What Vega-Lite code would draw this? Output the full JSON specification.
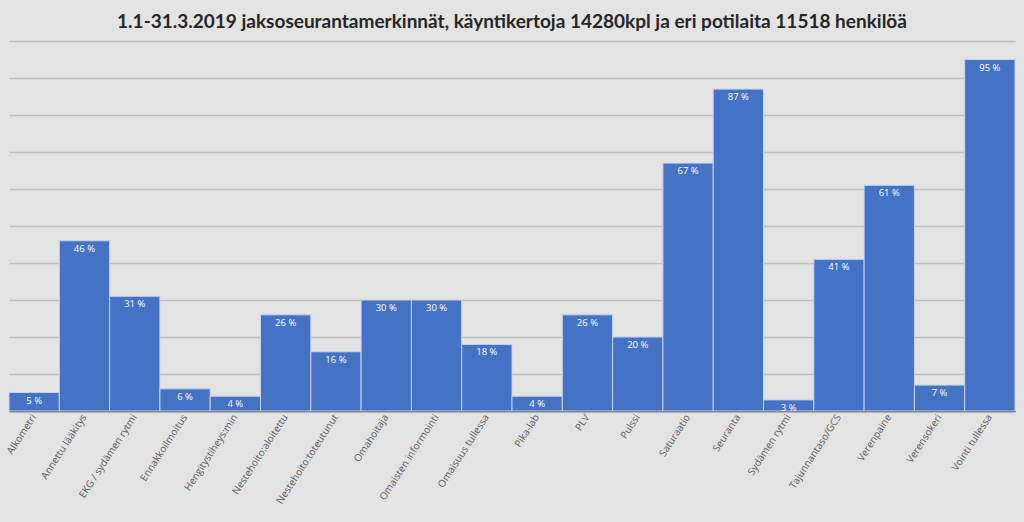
{
  "$schema": "https://vega.github.io/schema/vega-lite/v6.json",
  "width": 1006,
  "height": 370,
  "autosize": {"type": "none"},
  "padding": {"left": 9, "top": 41, "right": 9, "bottom": 111},
  "background": "#e3e3e3",
  "title": {
    "text": "1.1-31.3.2019 jaksoseurantamerkinnät, käyntikertoja 14280kpl ja eri potilaita 11518 henkilöä",
    "font": "Lato",
    "fontSize": 19,
    "fontWeight": "bold",
    "color": "#262626",
    "anchor": "middle",
    "offset": 9
  },
  "data": {
    "values": [
      {"kategoria": "Alkometri", "osuus": 5},
      {"kategoria": "Annettu lääkitys", "osuus": 46},
      {"kategoria": "EKG / sydämen rytmi", "osuus": 31},
      {"kategoria": "Ennakkoilmoitus", "osuus": 6},
      {"kategoria": "Hengitystiheys:min", "osuus": 4},
      {"kategoria": "Nestehoito:aloitettu", "osuus": 26},
      {"kategoria": "Nestehoito:toteutunut", "osuus": 16},
      {"kategoria": "Omahoitaja", "osuus": 30},
      {"kategoria": "Omaisten informointi", "osuus": 30},
      {"kategoria": "Omaisuus tullessa", "osuus": 18},
      {"kategoria": "Pika-lab", "osuus": 4},
      {"kategoria": "PLV", "osuus": 26},
      {"kategoria": "Pulssi", "osuus": 20},
      {"kategoria": "Saturaatio", "osuus": 67},
      {"kategoria": "Seuranta", "osuus": 87},
      {"kategoria": "Sydämen rytmi", "osuus": 3},
      {"kategoria": "Tajunnantaso/GCS", "osuus": 41},
      {"kategoria": "Verenpaine", "osuus": 61},
      {"kategoria": "Verensokeri", "osuus": 7},
      {"kategoria": "Vointi tullessa", "osuus": 95}
    ]
  },
  "encoding": {
    "x": {
      "field": "kategoria",
      "type": "nominal",
      "sort": null,
      "scale": {"paddingInner": 0, "paddingOuter": 0},
      "axis": {
        "title": null,
        "labelAngle": -57,
        "labelFont": "Open Sans",
        "labelFontSize": 10,
        "labelColor": "#595959",
        "ticks": false,
        "domainColor": "#3a3a3a",
        "domainWidth": 1.5,
        "labelPadding": 4,
        "grid": false
      }
    },
    "y": {
      "field": "osuus",
      "type": "quantitative",
      "scale": {"domain": [0, 100]},
      "axis": {
        "title": null,
        "labels": false,
        "ticks": false,
        "domain": false,
        "tickCount": 10,
        "gridColor": "#bdbdbd",
        "gridWidth": 1.5
      }
    }
  },
  "layer": [
    {
      "mark": {"type": "bar", "color": "#4472c4", "stroke": "#c9d4ec", "strokeWidth": 1}
    },
    {
      "mark": {
        "type": "text",
        "color": "#ffffff",
        "font": "Open Sans",
        "fontSize": 9.5,
        "baseline": "middle",
        "dy": 8,
        "text": {"expr": "datum.osuus + ' %'"}
      }
    }
  ],
  "config": {
    "view": {"stroke": null}
  }
}
